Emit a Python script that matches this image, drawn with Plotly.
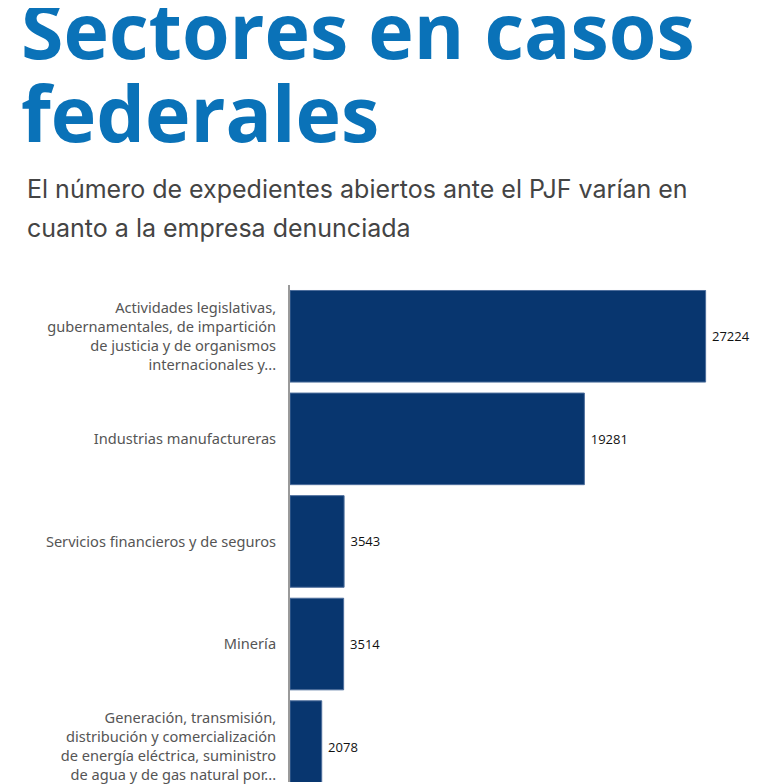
import plotly.graph_objects as go

# data (only the visible sectors)
sectores = [
    "Actividades legislativas,<br>gubernamentales, de impartición<br>de justicia y de organismos<br>internacionales y...",
    "Industrias manufactureras",
    "Servicios financieros y de seguros",
    "Minería",
    "Generación, transmisión,<br>distribución y comercialización<br>de energía eléctrica, suministro<br>de agua y de gas natural por...",
]
expedientes = [27224, 19281, 3543, 3514, 2078]

titulo = ["Sectores en casos", "federales"]
subtitulo = ["El número de expedientes abiertos ante el PJF varían en",
             "cuanto a la empresa denunciada"]

# the page body adds an 8px margin, so the figure is a bit smaller than the window
W, H = 763, 776
ML, MR, MT, MB = 282, 23, 277, 0
PW, PH = W - ML - MR, H - MT - MB


def px_x(px):
    return (px - ML) / PW


def px_y(py):
    return (H - MB - py) / PH


fig = go.Figure()
fig.add_trace(go.Bar(
    x=expedientes,
    y=sectores,
    orientation="h",
    marker=dict(color="#08366f", line=dict(color="#4d6e9c", width=1)),
    text=[str(v) for v in expedientes],
    texttemplate=" %{text}",
    textposition="outside",
    textfont=dict(family="Open Sans", size=13, color="#111111"),
    cliponaxis=False,
    hoverinfo="skip",
))

annotations = []
for i, (t, yy) in enumerate(zip(titulo, [20, 104])):
    annotations.append(dict(
        text="<b>" + t + "</b>", xref="paper", yref="paper",
        x=px_x(11), y=px_y(yy), xanchor="left", yanchor="middle",
        showarrow=False, font=dict(family="Open Sans", size=77, color="#0a72b8"),
    ))
for i, t in enumerate(subtitulo):
    annotations.append(dict(
        text=t, xref="paper", yref="paper",
        x=px_x(17), y=px_y(181 + 39 * i), xanchor="left", yanchor="middle",
        showarrow=False, font=dict(family="Inter", size=25, color="#444444"),
    ))

fig.update_layout(
    width=W, height=H,
    margin=dict(l=ML, r=MR, t=MT, b=MB),
    paper_bgcolor="white", plot_bgcolor="white",
    showlegend=False,
    bargap=0.107,
    annotations=annotations,
    xaxis=dict(range=[0, 30000], visible=False, fixedrange=True),
    yaxis=dict(
        range=[4.845 - 0.5, -0.5],
        showline=True, linecolor="#9a9a9a", linewidth=2,
        ticks="", ticklabelstandoff=9,
        tickfont=dict(family="Noto Sans", size=14.6, color="#555555"),
        showgrid=False, fixedrange=True,
    ),
)

fig.write_html("out.html")
